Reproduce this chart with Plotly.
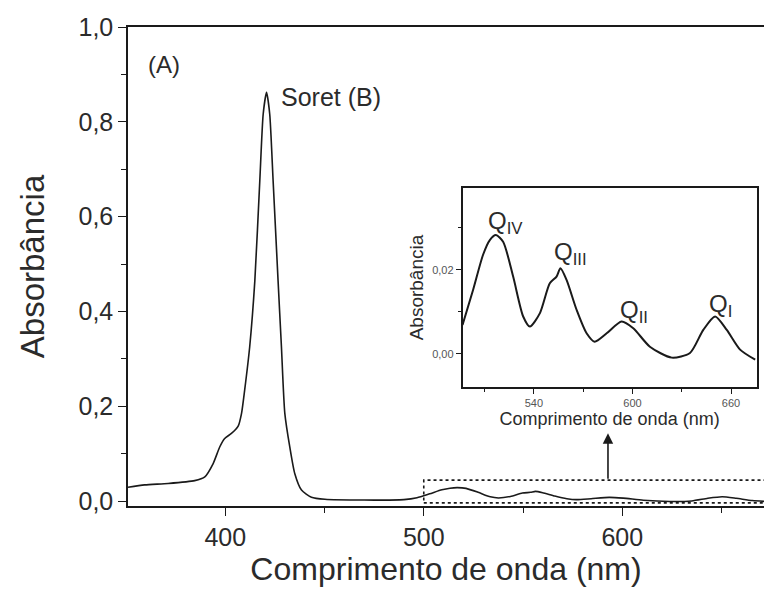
import plotly.graph_objects as go

# ---- data ----
wavelength = [351.0, 359.4, 371.2, 384.6, 389.7, 393.9, 397.2, 399.7, 403.1, 406.5,
              408.2, 409.8, 412.3, 414.9, 417.4, 419.1, 420.8, 422.4, 424.1, 426.6,
              428.3, 430.0, 432.5, 435.0, 438.4, 443.4, 450.2, 470.0, 490.0, 496.6,
              503.0, 509.1, 513.2, 516.9, 521.3, 527.4, 533.5, 537.6, 543.7, 549.7,
              553.8, 556.2, 559.9, 566.0, 572.1, 577.0, 584.3, 593.4, 600.5, 610.6,
              623.9, 635.0, 643.1, 650.3, 657.4, 665.5, 674.7]
absorbance = [0.029, 0.034, 0.037, 0.043, 0.051, 0.079, 0.114, 0.132, 0.1425, 0.158,
              0.185, 0.235, 0.325, 0.465, 0.676, 0.816, 0.862, 0.816, 0.676, 0.465,
              0.325, 0.185, 0.114, 0.058, 0.023, 0.008, 0.0036, 0.002, 0.003, 0.0069,
              0.0152, 0.0236, 0.0271, 0.0283, 0.0267, 0.0184, 0.0089, 0.0065, 0.0097, 0.0168,
              0.0184, 0.0204, 0.0176, 0.0105, 0.0049, 0.0029, 0.0049, 0.0077, 0.0061, 0.0017,
              -0.0009, 0.0002, 0.0057, 0.0089, 0.0057, 0.0010, -0.0014]

main_yticks = [0.0, 0.2, 0.4, 0.6, 0.8, 1.0]
main_xticks = [400, 500, 600]
inset_xticks = [540, 600, 660]
inset_yticks = [0.00, 0.02]

q_labels = ["Q<sub>IV</sub>", "Q<sub>III</sub>", "Q<sub>II</sub>", "Q<sub>I</sub>"]
q_x = [511.4, 551.8, 592.0, 646.2]
q_y = [0.0314, 0.0238, 0.0102, 0.0114]

inset_start = 496.6
inset_x = [w for w in wavelength if w >= inset_start]
inset_y = [a for w, a in zip(wavelength, absorbance) if w >= inset_start]

FONT = "Liberation Sans, Arial, sans-serif"
TXT = "#2b2b2b"
LINE = "#1a1a1a"

fig = go.Figure()
fig.add_trace(go.Scatter(x=wavelength, y=absorbance, mode="lines",
                         line=dict(color=LINE, width=1.6, shape="spline", smoothing=0.6),
                         xaxis="x", yaxis="y", showlegend=False, hoverinfo="skip"))
fig.add_trace(go.Scatter(x=inset_x, y=inset_y, mode="lines",
                         line=dict(color=LINE, width=2.0, shape="spline", smoothing=0.7),
                         xaxis="x2", yaxis="y2", showlegend=False, hoverinfo="skip"))

fig.update_layout(
    width=764, height=596,
    margin=dict(l=128, r=0, t=27, b=90),
    paper_bgcolor="white", plot_bgcolor="white",
    separators=",.",
    font=dict(family=FONT, color=TXT),
    xaxis=dict(domain=[0, 1], range=[351, 671.4], showline=True, linecolor=LINE, linewidth=1.5,
               mirror=True, showgrid=False, zeroline=False,
               tickmode="array", tickvals=main_xticks, ticks="outside", ticklen=8,
               tickcolor=LINE, tickwidth=1.3,
               minor=dict(ticks="outside", ticklen=5, dtick=50, tick0=400, tickcolor=LINE, tickwidth=1.3),
               tickfont=dict(size=25, color=TXT),
               title=dict(text="Comprimento de onda (nm)", font=dict(size=32, color=TXT), standoff=7)),
    yaxis=dict(domain=[0, 1], range=[-0.0105, 1.0], showline=True, linecolor=LINE, linewidth=1.5,
               showgrid=False, zeroline=False,
               tickmode="array", tickvals=main_yticks, tickformat=".1f", ticks="outside",
               ticklen=8, tickcolor=LINE, tickwidth=1.3,
               minor=dict(ticks="outside", ticklen=5, dtick=0.1, tick0=0, tickcolor=LINE, tickwidth=1.3),
               tickfont=dict(size=25, color=TXT),
               title=dict(text="Absorbância", font=dict(size=33, color=TXT), standoff=24)),
    xaxis2=dict(domain=[0.526, 0.9885], anchor="y2", range=[496.6, 675.6], showline=True,
                linecolor=LINE, linewidth=1.5, mirror=True, showgrid=False, zeroline=False,
                tickmode="array", tickvals=inset_xticks, ticks="outside", ticklen=5,
                tickcolor=LINE, tickwidth=1,
                minor=dict(ticks="outside", ticklen=3, dtick=30, tick0=540, tickcolor=LINE),
                tickfont=dict(size=11, color="#555"),
                title=dict(text="Comprimento de onda (nm)", font=dict(size=18, color=TXT), standoff=3)),
    yaxis2=dict(domain=[0.2484, 0.6639], anchor="x2", range=[-0.0079, 0.0395], showline=True,
                linecolor=LINE, linewidth=1.5, mirror=True, showgrid=False, zeroline=False,
                tickmode="array", tickvals=inset_yticks, tickformat=".2f", ticks="outside",
                ticklen=5, tickcolor=LINE, tickwidth=1,
                minor=dict(ticks="outside", ticklen=3, dtick=0.01, tick0=0, tickcolor=LINE),
                tickfont=dict(size=11, color="#555"),
                title=dict(text="Absorbância", font=dict(size=19, color=TXT), standoff=4)),
)

# dotted rectangle marking the Q-band region on the main plot
fig.add_shape(type="rect", xref="x", yref="y", x0=500, x1=700, y0=-0.004, y1=0.044,
              line=dict(color=LINE, width=1.6, dash="dot"))

# arrow pointing to the inset
fig.add_annotation(xref="x", yref="y", axref="x", ayref="y", x=592.8, y=0.143,
                   ax=592.8, ay=0.044, text="", showarrow=True, arrowhead=2,
                   arrowsize=1.3, arrowwidth=1.6, arrowcolor=LINE)

fig.add_annotation(xref="x", yref="y", x=359.9, y=0.92, text="(A)", showarrow=False,
                   xanchor="left", yanchor="middle", font=dict(size=24, color=TXT))
fig.add_annotation(xref="x", yref="y", x=427.3, y=0.852, text="Soret (B)", showarrow=False,
                   xanchor="left", yanchor="middle", font=dict(size=25, color=TXT))

for lab, qx, qy in zip(q_labels, q_x, q_y):
    fig.add_annotation(xref="x2", yref="y2", x=qx, y=qy, text=lab, showarrow=False,
                       xanchor="left", yanchor="middle", font=dict(size=24, color=TXT),
                       borderpad=0)

fig.write_html("out.html")
